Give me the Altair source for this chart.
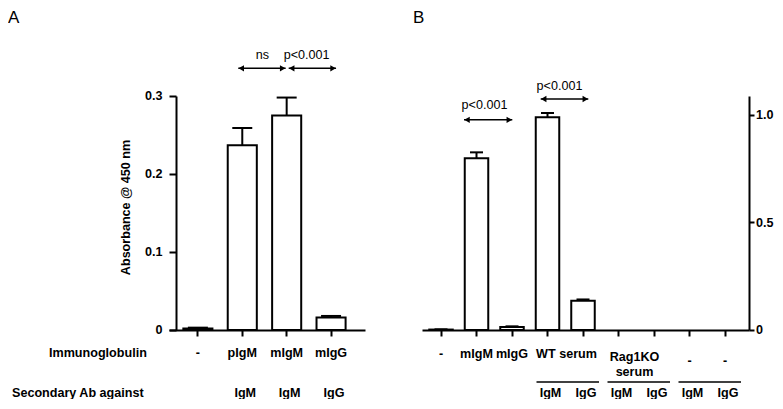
import altair as alt
import pandas as pd

# ---------------- data ----------------
# Panel A
a_categories = ["-", "pIgM", "mIgM", "mIgG"]
a_means = [0.002, 0.237, 0.275, 0.016]
a_sems = [0.001, 0.022, 0.023, 0.002]
a_secondary = ["", "IgM", "IgM", "IgG"]
a_ticks = [0, 0.1, 0.2, 0.3]
a_y_title = "Absorbance @ 450 nm"
a_cmp_from = ["pIgM", "mIgM"]
a_cmp_to = ["mIgM", "mIgG"]
a_cmp_label = ["ns", "p<0.001"]
a_cmp_arrow_y = [0.3355, 0.3355]
a_cmp_label_y = [0.3474, 0.3474]

# Panel B
b_categories = ["-", "mIgM", "mIgG", "WT serum IgM", "WT serum IgG",
                "Rag1KO serum IgM", "Rag1KO serum IgG", "- IgM", "- IgG"]
b_means = [0.002, 0.798, 0.014, 0.989, 0.136, 0.0, 0.0, 0.0, 0.0]
b_sems = [0.001, 0.028, 0.003, 0.020, 0.006, 0.0, 0.0, 0.0, 0.0]
b_secondary = ["", "", "", "IgM", "IgG", "IgM", "IgG", "IgM", "IgG"]
b_ticks = [0, 0.5, 1.0]
b_main_cats = ["-", "mIgM", "mIgG"]
b_main_labels = ["-", "mIgM", "mIgG"]
b_wt_cat = ["WT serum IgM"]
b_wt_label = ["WT serum"]
b_rag_cat = ["Rag1KO serum IgM"]
b_rag_label = ["Rag1KO\nserum"]
b_none_cats = ["- IgM", "- IgG"]
b_none_labels = ["-", "-"]
b_group_from = ["WT serum IgM", "Rag1KO serum IgM", "- IgM"]
b_group_to = ["WT serum IgG", "Rag1KO serum IgG", "- IgG"]
b_cmp_from = ["mIgM", "WT serum IgM"]
b_cmp_to = ["mIgG", "WT serum IgG"]
b_cmp_label = ["p<0.001", "p<0.001"]
b_cmp_arrow_y = [0.977, 1.074]
b_cmp_label_y = [1.028, 1.116]

row_titles = ["Immunoglobulin", "Secondary Ab against"]
panel_letters = ["A", "B"]

# ---------------- style ----------------
FONT = "Liberation Sans"
FS = 12.6
BLACK = "black"
A_W, A_H = 196, 234
B_W, B_H = 327, 234
Y_ROW1 = 257.5
Y_ROW2 = 297.3
Y_UNDER = 286
Y_LETTER = -86

scaleA_x = alt.Scale(domain=a_categories, paddingInner=0.345, paddingOuter=0.38, align=0.425)
scaleA_y = alt.Scale(domain=[0, 0.3])
scaleB_x = alt.Scale(domain=b_categories, paddingInner=0.338, paddingOuter=0.2746, align=0.372)
scaleB_y = alt.Scale(domain=[0, 1.088])

label_expr = "datum.value == 0 ? '0' : format(datum.value, '.1f')"
axis_common = dict(domainColor=BLACK, domainWidth=2, tickColor=BLACK, tickWidth=2,
                   labelFont=FONT, labelFontSize=FS, labelFontWeight="bold",
                   labelColor=BLACK, grid=False)

axA_x = alt.Axis(title=None, labelAngle=0, tickSize=6, labelPadding=11, **axis_common)
axA_y = alt.Axis(values=a_ticks, labelExpr=label_expr, offset=-7, tickSize=7, labelPadding=7,
                 title=a_y_title, titleFont=FONT, titleFontSize=FS, titleFontWeight="bold",
                 titleColor=BLACK, titleAngle=270, titleAlign="center", titleBaseline="middle",
                 titleX=-51, titleY=111, **axis_common)
axB_x = alt.Axis(title=None, labels=False, tickSize=6, **axis_common)
axB_y = alt.Axis(orient="right", values=b_ticks, labelExpr=label_expr, tickSize=5,
                 labelPadding=1.5, title=None, **axis_common)


def xa(f):
    return alt.X(f"{f}:N", scale=scaleA_x, axis=axA_x)


def ya(f):
    return alt.Y(f"{f}:Q", scale=scaleA_y, axis=axA_y)


def xb(f):
    return alt.X(f"{f}:N", scale=scaleB_x, axis=axB_x)


def yb(f):
    return alt.Y(f"{f}:Q", scale=scaleB_y, axis=axB_y)


def text_mark(**kw):
    base = dict(font=FONT, fontSize=FS, color=BLACK)
    base.update(kw)
    return base


def arrow_layers(df, xf, yf, d1, d2, dt):
    line = alt.Chart(df).mark_rule(color=BLACK, strokeWidth=1.5, xOffset=d1, x2Offset=d2).encode(
        x=xf("from"), x2=alt.X2("to"), y=yf("arrow_y"))
    left = alt.Chart(df).mark_point(shape="triangle-left", filled=True, size=40, color=BLACK,
                                    opacity=1, xOffset=d1 + 3).encode(x=xf("from"), y=yf("arrow_y"))
    right = alt.Chart(df).mark_point(shape="triangle-right", filled=True, size=40, color=BLACK,
                                     opacity=1, xOffset=d2 - 3).encode(x=xf("to"), y=yf("arrow_y"))
    lab = alt.Chart(df).mark_text(**text_mark(baseline="alphabetic", align="center", xOffset=dt)).encode(
        x=xf("from"), y=yf("label_y"), text="label:N")
    return [line, left, right, lab]


# ---------------- panel A ----------------
dfA = pd.DataFrame({"cat": a_categories, "mean": a_means, "sem": a_sems, "secondary": a_secondary})
dfA["top"] = dfA["mean"] + dfA["sem"]
cmpA = pd.DataFrame({"from": a_cmp_from, "to": a_cmp_to, "label": a_cmp_label,
                     "arrow_y": a_cmp_arrow_y, "label_y": a_cmp_label_y})

barsA = alt.Chart(dfA).mark_bar(fill="white", stroke=BLACK, strokeWidth=2).encode(
    x=xa("cat"), y=ya("mean"))
errA = alt.Chart(dfA).transform_filter("datum.sem > 0").mark_rule(color=BLACK, strokeWidth=2).encode(
    x=xa("cat"), y=ya("mean"), y2=alt.Y2("top"))
capA = alt.Chart(dfA).transform_filter("datum.sem > 0").mark_tick(color=BLACK, thickness=2, size=20, opacity=1).encode(
    x=xa("cat"), y=ya("top"))

layersA = [barsA, errA, capA]
for i, (d1, d2, dt) in enumerate([(-4, -1, 20), (2, 5, 20)]):
    layersA += arrow_layers(cmpA.iloc[[i]], xa, ya, d1, d2, dt)

secA = alt.Chart(dfA).transform_filter("datum.secondary != ''").mark_text(
    **text_mark(fontWeight="bold", baseline="middle", xOffset=3)).encode(
    x=xa("cat"), y=alt.value(Y_ROW2), text="secondary:N")
row1 = alt.Chart(pd.DataFrame({"t": [row_titles[0]]})).mark_text(
    **text_mark(fontWeight="bold", baseline="middle", align="left")).encode(
    x=alt.value(-120), y=alt.value(Y_ROW1), text="t:N")
row2 = alt.Chart(pd.DataFrame({"t": [row_titles[1]]})).mark_text(
    **text_mark(fontWeight="bold", baseline="middle", align="left")).encode(
    x=alt.value(-157), y=alt.value(Y_ROW2), text="t:N")
letterA = alt.Chart(pd.DataFrame({"t": [panel_letters[0]]})).mark_text(
    **text_mark(fontSize=17, baseline="top", align="left")).encode(
    x=alt.value(-161), y=alt.value(Y_LETTER), text="t:N")
layersA += [secA, row1, row2, letterA]

panelA = alt.layer(*layersA).properties(width=A_W, height=A_H)

# ---------------- panel B ----------------
dfB = pd.DataFrame({"cat": b_categories, "mean": b_means, "sem": b_sems, "secondary": b_secondary})
dfB["top"] = dfB["mean"] + dfB["sem"]
cmpB = pd.DataFrame({"from": b_cmp_from, "to": b_cmp_to, "label": b_cmp_label,
                     "arrow_y": b_cmp_arrow_y, "label_y": b_cmp_label_y})

barsB = alt.Chart(dfB).transform_filter("datum.mean > 0").mark_bar(
    fill="white", stroke=BLACK, strokeWidth=2).encode(x=xb("cat"), y=yb("mean"))
errB = alt.Chart(dfB).transform_filter("datum.sem > 0").mark_rule(color=BLACK, strokeWidth=2).encode(
    x=xb("cat"), y=yb("mean"), y2=alt.Y2("top"))
capB = alt.Chart(dfB).transform_filter("datum.sem > 0").mark_tick(color=BLACK, thickness=2, size=13, opacity=1).encode(
    x=xb("cat"), y=yb("top"))
layersB = [barsB, errB, capB]
for i, (d1, d2, dt) in enumerate([(-12.5, 0.3, 8), (-6.8, 5.3, 12)]):
    layersB += arrow_layers(cmpB.iloc[[i]], xb, yb, d1, d2, dt)

mainB = alt.Chart(pd.DataFrame({"cat": b_main_cats, "t": b_main_labels})).mark_text(
    **text_mark(fontWeight="bold", baseline="middle")).encode(
    x=xb("cat"), y=alt.value(Y_ROW1 + 1), text="t:N")
wtB = alt.Chart(pd.DataFrame({"cat": b_wt_cat, "t": b_wt_label})).mark_text(
    **text_mark(fontWeight="bold", baseline="middle", xOffset=19)).encode(
    x=xb("cat"), y=alt.value(Y_ROW1 + 1), text="t:N")
ragB = alt.Chart(pd.DataFrame({"cat": b_rag_cat, "t": b_rag_label})).mark_text(
    **text_mark(fontWeight="bold", baseline="top", lineBreak="\n", lineHeight=15, xOffset=16)).encode(
    x=xb("cat"), y=alt.value(Y_ROW1 - 2), text="t:N")
noneB = alt.Chart(pd.DataFrame({"cat": b_none_cats, "t": b_none_labels})).mark_text(
    **text_mark(fontWeight="bold", baseline="middle")).encode(
    x=xb("cat"), y=alt.value(Y_ROW1 + 8), text="t:N")
underB = alt.Chart(pd.DataFrame({"from": b_group_from, "to": b_group_to})).mark_rule(
    color=BLACK, strokeWidth=1.5, xOffset=-11, x2Offset=16).encode(
    x=xb("from"), x2=alt.X2("to"), y=alt.value(Y_UNDER))
secB = alt.Chart(dfB).transform_filter("datum.secondary != ''").mark_text(
    **text_mark(fontWeight="bold", baseline="middle", xOffset=3)).encode(
    x=xb("cat"), y=alt.value(Y_ROW2), text="secondary:N")
letterB = alt.Chart(pd.DataFrame({"t": [panel_letters[1]]})).mark_text(
    **text_mark(fontSize=17, baseline="top", align="left")).encode(
    x=alt.value(-9), y=alt.value(Y_LETTER), text="t:N")
layersB += [mainB, wtB, ragB, noneB, underB, secB, letterB]

panelB = alt.layer(*layersB).properties(width=B_W, height=B_H)

chart = alt.hconcat(panelA, panelB, spacing=57, bounds="flush").configure_view(
    stroke=None).properties(padding={"left": 0, "top": 1, "right": 0, "bottom": -0.9},
                            background="white")

chart.save("out.html", embed_options={"renderer": "svg", "actions": False})
